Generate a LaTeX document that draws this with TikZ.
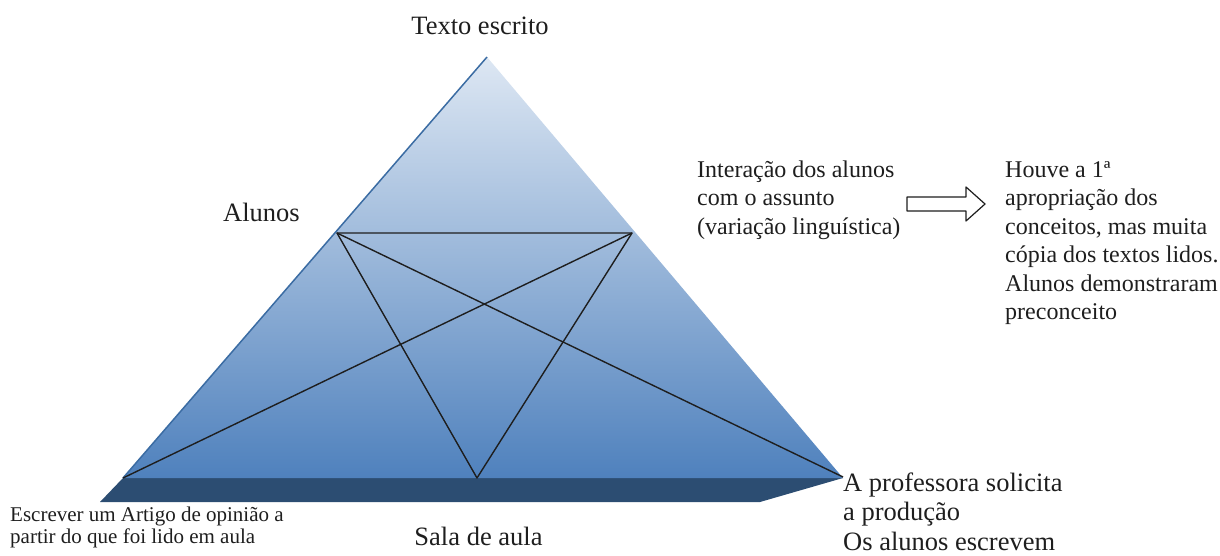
\documentclass[tikz,border=0pt]{standalone}
\usepackage{fontspec}
\setmainfont{Liberation Serif}
\definecolor{apexc}{HTML}{DDE7F3}
\definecolor{basec}{HTML}{4F81BD}
\definecolor{slabc}{HTML}{2C4D72}
\definecolor{edgec}{HTML}{3B6CA3}
\definecolor{inkc}{HTML}{1E1E1E}
\begin{document}
\begin{tikzpicture}[x=1pt,y=-1pt,line join=round,
  bigtext/.style={inner sep=0pt,align=left,text=inkc,font=\fontsize{26.5}{29.5}\selectfont},
  midtext/.style={inner sep=0pt,align=left,text=inkc,font=\fontsize{24}{28.5}\selectfont},
  smalltext/.style={inner sep=0pt,align=left,text=inkc,font=\fontsize{21}{22.5}\selectfont},
  penta/.style={draw=inkc,line width=1.4pt},
  blockarrow/.style={draw=inkc,line width=1.2pt,fill=white}]
\useasboundingbox (0,0) rectangle (1220,556);
% pyramid
\coordinate (apex) at (487,57);
\coordinate (bl) at (123,478);
\coordinate (br) at (843,478);
\coordinate (sbl) at (100,502);
\coordinate (sbr) at (760,502);
\fill[slabc] (bl) -- (br) -- (sbr) -- (sbl) -- cycle;
\shade[top color=apexc,bottom color=basec] (apex) -- (br) -- (bl) -- cycle;
\draw[edgec,line width=1.5pt] (apex) -- (bl);
% inner figure
\coordinate (A) at (337,233);
\coordinate (B) at (632,233);
\coordinate (C) at (477,478);
\coordinate (D) at (123,478);
\coordinate (E) at (843,477);
\draw[penta] (A) -- (B) -- (C) -- cycle;
\draw[penta] (A) -- (E);
\draw[penta] (B) -- (D);
% labels (base anchor = baseline of the last line)
\node[bigtext,anchor=base] (texto) at (480,35) {Texto escrito};
\node[bigtext,anchor=base west] (alunos) at (223,222) {Alunos};
\node[midtext,anchor=base west] (inter) at (697,234) {Interação dos alunos\\com o assunto\\(variação linguística)};
\node[midtext,anchor=base west] (houve) at (1005,319.5) {Houve a 1ª\\apropriação dos\\conceitos, mas muita\\cópia dos textos lidos.\\Alunos demonstraram\\preconceito};
\node[bigtext,anchor=base west] (prof) at (843,550) {A professora solicita\\a produção\\Os alunos escrevem};
\node[smalltext,anchor=base west] (escrever) at (10,543.5) {Escrever um Artigo de opinião a\\partir do que foi lido em aula};
\node[bigtext,anchor=base] (sala) at (478.5,545) {Sala de aula};
% block arrow
\draw[blockarrow] (907,197) -- (966,197) -- (966,187) -- (985,204) -- (966,221) -- (966,211) -- (907,211) -- cycle;
\end{tikzpicture}
\end{document}
